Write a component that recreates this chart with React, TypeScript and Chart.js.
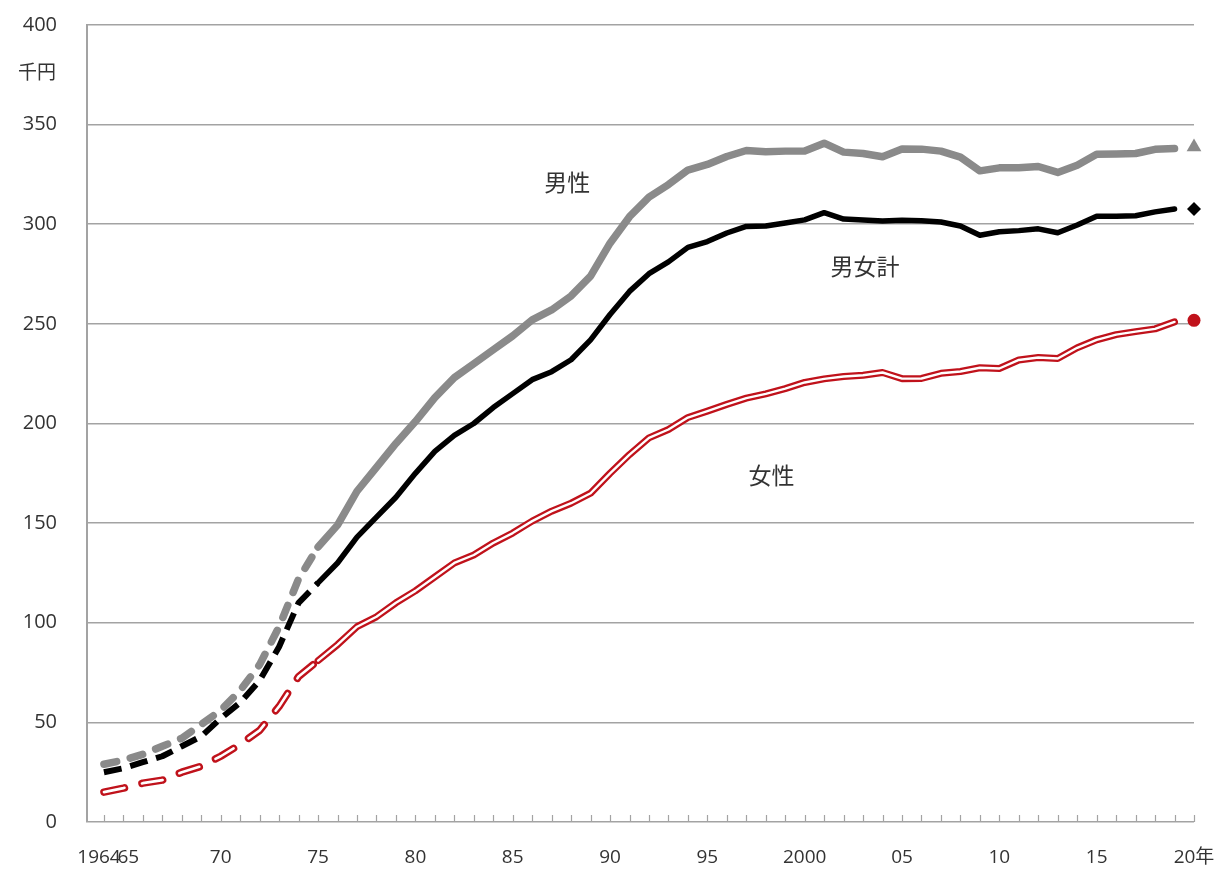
import React, { useEffect, useRef } from "react";
import { Chart, registerables } from "chart.js";

Chart.register(...registerables);

// ---- data ----
const years = [
  1964, 1965, 1966, 1967, 1968, 1969, 1970, 1971, 1972, 1973, 1974, 1975,
  1976, 1977, 1978, 1979, 1980, 1981, 1982, 1983, 1984, 1985, 1986, 1987,
  1988, 1989, 1990, 1991, 1992, 1993, 1994, 1995, 1996, 1997, 1998, 1999,
  2000, 2001, 2002, 2003, 2004, 2005, 2006, 2007, 2008, 2009, 2010, 2011,
  2012, 2013, 2014, 2015, 2016, 2017, 2018, 2019,
];

const maleValues = [
  29, 31, 34, 38, 42, 49, 56, 66, 79, 98, 122, 138,
  149, 166, 178, 190, 201, 213, 223, 230, 237, 244, 252, 257, 264, 274,
  290.5, 303.8, 313.6, 319.9, 327.2, 330.0, 334.0, 337.0, 336.4, 336.7,
  336.8, 340.7, 336.2, 335.5, 333.9, 337.8, 337.7, 336.7, 333.7, 326.8,
  328.3, 328.3, 329.0, 326.0, 329.6, 335.1, 335.2, 335.5, 337.6, 338.0,
];

const totalValues = [
  25, 27, 30, 33, 38, 43, 52, 60, 71, 88, 110, 120,
  130, 143, 153, 163, 175, 186, 194, 200, 208, 215, 222, 226, 232, 242,
  254.7, 266.3, 275.2, 281.1, 288.4, 291.3, 295.6, 298.9, 299.1, 300.6,
  302.2, 305.8, 302.6, 302.1, 301.6, 302.0, 301.8, 301.1, 299.1, 294.5,
  296.2, 296.8, 297.7, 295.7, 299.6, 304.0, 304.0, 304.3, 306.2, 307.7,
];

const femaleValues = [
  15, 17, 19.5, 21, 25, 28, 33, 39, 46, 58, 73, 81,
  89, 98, 103, 110, 116, 123, 130, 134, 140, 145, 151, 156, 160, 165,
  175.0, 184.4, 192.8, 197.0, 203.0, 206.2, 209.6, 212.7, 214.9, 217.5,
  220.6, 222.4, 223.6, 224.2, 225.6, 222.5, 222.6, 225.2, 226.1, 228.0,
  227.6, 231.9, 233.1, 232.6, 238.0, 242.0, 244.6, 246.1, 247.5, 251.0,
];

const surveyChangeYear = 1975; // dashed up to here, solid from here
const latestYear = 2020;
const latestMale = 338.8;
const latestTotal = 307.7;
const latestFemale = 251.8;

const xTickYears = [1964, 1965, 1970, 1975, 1980, 1985, 1990, 1995, 2000, 2005, 2010, 2015, 2020];
const xTickLabels = ["1964  ", "  65", "70", "75", "80", "85", "90", "95", "2000", "05", "10", "15", "20年"];
const yUnitLabel = "千円";

const seriesNames = ["男性", "男女計", "女性"];
const seriesNameYears = [1987.8, 2003.1, 1998.3];
const seriesNameValues = [321, 279, 174];

// ---- styles ----
const GRAY = "#8a8a8a";
const BLACK = "#000000";
const RED = "#c0121b";
const GRID = "#a3a3a3";
const TEXT = "#333333";
const NUM_FONT = "'Open Sans', 'Noto Sans CJK JP', sans-serif";
const CJK_FONT = "'Noto Sans CJK JP', 'Noto Sans', sans-serif";

function pts(values: number[], from: number, to: number) {
  const out: { x: number; y: number }[] = [];
  years.forEach((yr, i) => {
    if (yr >= from && yr <= to) out.push({ x: yr, y: values[i] });
  });
  return out;
}

const overlayPlugin = {
  id: "overlayText",
  afterDatasetsDraw(chart: any) {
    const { ctx, chartArea, scales } = chart;
    const xs = scales.x;
    const ys = scales.y;
    ctx.save();
    // inward tick marks for each year
    ctx.strokeStyle = GRID;
    ctx.lineWidth = 1.2;
    ctx.beginPath();
    for (let yr = years[0]; yr <= latestYear; yr++) {
      const px = Math.round(xs.getPixelForValue(yr)) + 0.5;
      ctx.moveTo(px, chartArea.bottom);
      ctx.lineTo(px, chartArea.bottom - 7);
    }
    ctx.stroke();

    // unit label
    ctx.fillStyle = TEXT;
    ctx.font = `19px ${CJK_FONT}`;
    ctx.textAlign = "center";
    ctx.textBaseline = "middle";
    ctx.fillText(yUnitLabel, 37, ys.getPixelForValue(400) + 47);

    // series labels
    ctx.font = `23px ${CJK_FONT}`;
    seriesNames.forEach((name, i) => {
      ctx.fillText(name, xs.getPixelForValue(seriesNameYears[i]), ys.getPixelForValue(seriesNameValues[i]));
    });
    ctx.restore();
  },
};

function zeroPadding(scale: any) {
  scale.paddingTop = 0;
  scale.paddingBottom = 0;
  scale.paddingLeft = 0;
  scale.paddingRight = 0;
}

export default function App() {
  const canvasRef = useRef<HTMLCanvasElement | null>(null);

  useEffect(() => {
    const canvas = canvasRef.current;
    if (!canvas) return;

    const solidTo = years[years.length - 1];
    const dashedGray = [13, 14];
    const dashedRed = [21, 18];

    const lineBase = {
      pointRadius: 0,
      tension: 0,
      borderJoinStyle: "round",
      borderCapStyle: "round",
    };

    const chart = new Chart(canvas, {
      type: "line",
      data: {
        datasets: [
          // markers for latest year
          {
            label: "男性2020",
            data: [{ x: latestYear, y: latestMale }],
            pointStyle: "triangle",
            pointRadius: 8.5,
            backgroundColor: GRAY,
            borderColor: GRAY,
            borderWidth: 0,
            showLine: false,
            clip: false,
            order: 0,
          },
          {
            label: "男女計2020",
            data: [{ x: latestYear, y: latestTotal }],
            pointStyle: "rectRot",
            pointRadius: 7,
            backgroundColor: BLACK,
            borderColor: BLACK,
            borderWidth: 0,
            showLine: false,
            clip: false,
            order: 0,
          },
          {
            label: "女性2020",
            data: [{ x: latestYear, y: latestFemale }],
            pointStyle: "circle",
            pointRadius: 6.5,
            backgroundColor: RED,
            borderColor: RED,
            borderWidth: 0,
            showLine: false,
            clip: false,
            order: 0,
          },
          // female inner white lines
          {
            ...lineBase,
            label: "女性inner",
            data: pts(femaleValues, surveyChangeYear, solidTo),
            borderColor: "#ffffff",
            borderWidth: 2.4,
            order: 1,
          },
          {
            ...lineBase,
            label: "女性inner dashed",
            data: pts(femaleValues, years[0], surveyChangeYear),
            borderColor: "#ffffff",
            borderWidth: 2.6,
            borderDash: dashedRed,
            order: 1,
          },
          // female outer red
          {
            ...lineBase,
            label: "女性",
            data: pts(femaleValues, surveyChangeYear, solidTo),
            borderColor: RED,
            borderWidth: 7,
            order: 2,
          },
          {
            ...lineBase,
            label: "女性dashed",
            data: pts(femaleValues, years[0], surveyChangeYear),
            borderColor: RED,
            borderWidth: 7.5,
            borderDash: dashedRed,
            order: 2,
          },
          // total
          {
            ...lineBase,
            label: "男女計",
            data: pts(totalValues, surveyChangeYear, solidTo),
            borderColor: BLACK,
            borderWidth: 5.5,
            order: 2,
          },
          {
            ...lineBase,
            label: "男女計dashed",
            data: pts(totalValues, years[0], surveyChangeYear),
            borderColor: BLACK,
            borderWidth: 6,
            borderDash: [18, 9],
            borderCapStyle: "butt",
            order: 2,
          },
          // male
          {
            ...lineBase,
            label: "男性",
            data: pts(maleValues, surveyChangeYear, solidTo),
            borderColor: GRAY,
            borderWidth: 7.5,
            order: 3,
          },
          {
            ...lineBase,
            label: "男性dashed",
            data: pts(maleValues, years[0], surveyChangeYear),
            borderColor: GRAY,
            borderWidth: 7.5,
            borderDash: dashedGray,
            order: 3,
          },
        ],
      },
      options: {
        animation: false,
        responsive: true,
        maintainAspectRatio: false,
        layout: { padding: { left: 0, right: 30, top: 25, bottom: 0 } },
        plugins: {
          legend: { display: false },
          tooltip: { enabled: false },
        },
        scales: {
          x: {
            type: "linear",
            min: 1963.13,
            max: latestYear,
            afterBuildTicks: (scale: any) => {
              scale.ticks = xTickYears.map((v) => ({ value: v }));
            },
            afterFit: (scale: any) => {
              scale.height = 53;
              zeroPadding(scale);
            },
            ticks: {
              autoSkip: false,
              maxRotation: 0,
              padding: 24,
              color: TEXT,
              font: { family: NUM_FONT, size: 19 },
              callback: (value: any) => {
                const idx = xTickYears.indexOf(Number(value));
                return idx >= 0 ? xTickLabels[idx] : "";
              },
            },
            grid: { display: false, drawOnChartArea: false, drawTicks: false },
            border: { display: false },
          },
          y: {
            min: 0,
            max: 400,
            afterFit: (scale: any) => {
              scale.width = 87;
              zeroPadding(scale);
            },
            ticks: {
              stepSize: 50,
              padding: 30,
              color: TEXT,
              font: { family: NUM_FONT, size: 20 },
            },
            grid: { color: GRID, lineWidth: 1.6, drawTicks: false },
            border: { display: true, color: GRID, width: 2 },
          },
        },
      } as any,
      plugins: [overlayPlugin],
    });

    return () => {
      chart.destroy();
    };
  }, []);

  return (
    <div
      style={{
        position: "absolute",
        left: 0,
        top: 0,
        width: 1224,
        height: 875,
        background: "#ffffff",
      }}
    >
      <canvas ref={canvasRef} />
    </div>
  );
}
